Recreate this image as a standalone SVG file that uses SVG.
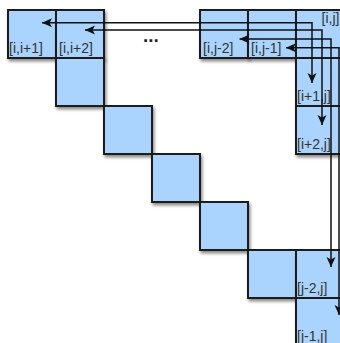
<svg xmlns="http://www.w3.org/2000/svg" width="340" height="343" viewBox="0 0 340 343">
<style>
.cell{fill:#aad4fd;stroke:#1e1e1e;stroke-width:2;filter:url(#sh)}
.lbl{font-family:"Liberation Sans",Arial,sans-serif;font-size:14px;fill:#333}
.con{fill:none;stroke:#111;stroke-width:1.5;marker-start:url(#ah);marker-end:url(#ah)}
</style>
<defs>
<filter id="sh" x="-20%" y="-20%" width="150%" height="150%">
<feDropShadow dx="1.5" dy="2.5" stdDeviation="1.5" flood-color="#000" flood-opacity="0.45"/>
</filter>
<marker id="ah" viewBox="0 0 10 10" refX="10" refY="5" markerWidth="10" markerHeight="10" markerUnits="userSpaceOnUse" orient="auto-start-reverse">
<path d="M0,0.5 L10,5 L0,9.5 L2.5,5 z" fill="#111"/>
</marker>
</defs>
<g id="nodes">
<g id="c_i_i1"><rect class="cell" x="8" y="10" width="48" height="48"/><text class="lbl" x="9" y="53">[i,i+1]</text></g>
<g id="c_i_i2"><rect class="cell" x="56" y="10" width="48" height="48"/><text class="lbl" x="59" y="53">[i,i+2]</text></g>
<g id="c_i_j2"><rect class="cell" x="200" y="10" width="48" height="48"/><text class="lbl" x="203" y="53">[i,j-2]</text></g>
<g id="c_i_j1"><rect class="cell" x="248" y="10" width="48" height="48"/><text class="lbl" x="251" y="53">[i,j-1]</text></g>
<g id="c_i_j"><rect class="cell" x="296" y="10" width="48" height="48"/><text class="lbl" x="321.5" y="23">[i,j]</text></g>
<g id="d1"><rect class="cell" x="56" y="58" width="48" height="48"/></g>
<g id="c_i1_j"><rect class="cell" x="296" y="58" width="48" height="48"/><text class="lbl" x="297" y="101">[i+1,j]</text></g>
<g id="d2"><rect class="cell" x="104" y="106" width="48" height="48"/></g>
<g id="c_i2_j"><rect class="cell" x="296" y="106" width="48" height="48"/><text class="lbl" x="297" y="149">[i+2,j]</text></g>
<g id="d3"><rect class="cell" x="152" y="154" width="48" height="48"/></g>
<g id="d4"><rect class="cell" x="200" y="202" width="48" height="48"/></g>
<g id="d5"><rect class="cell" x="248" y="250" width="48" height="48"/></g>
<g id="c_j2_j"><rect class="cell" x="296" y="250" width="48" height="48"/><text class="lbl" x="297" y="293">[j-2,j]</text></g>
<g id="c_j1_j"><rect class="cell" x="296" y="298" width="48" height="48"/><text class="lbl" x="297" y="341">[j-1,j]</text></g>
</g>
<text x="143" y="42" font-family="Liberation Sans,Arial,sans-serif" font-size="19" font-weight="bold" fill="#222">...</text>
<g id="connectors">
<path class="con" d="M42,22.7 H312 V83"/>
<path class="con" d="M85,30 H322 V125"/>
<path class="con" d="M239.5,39 H331 V267"/>
<path class="con" d="M286,47.7 H339 V315"/>
</g>
</svg>
